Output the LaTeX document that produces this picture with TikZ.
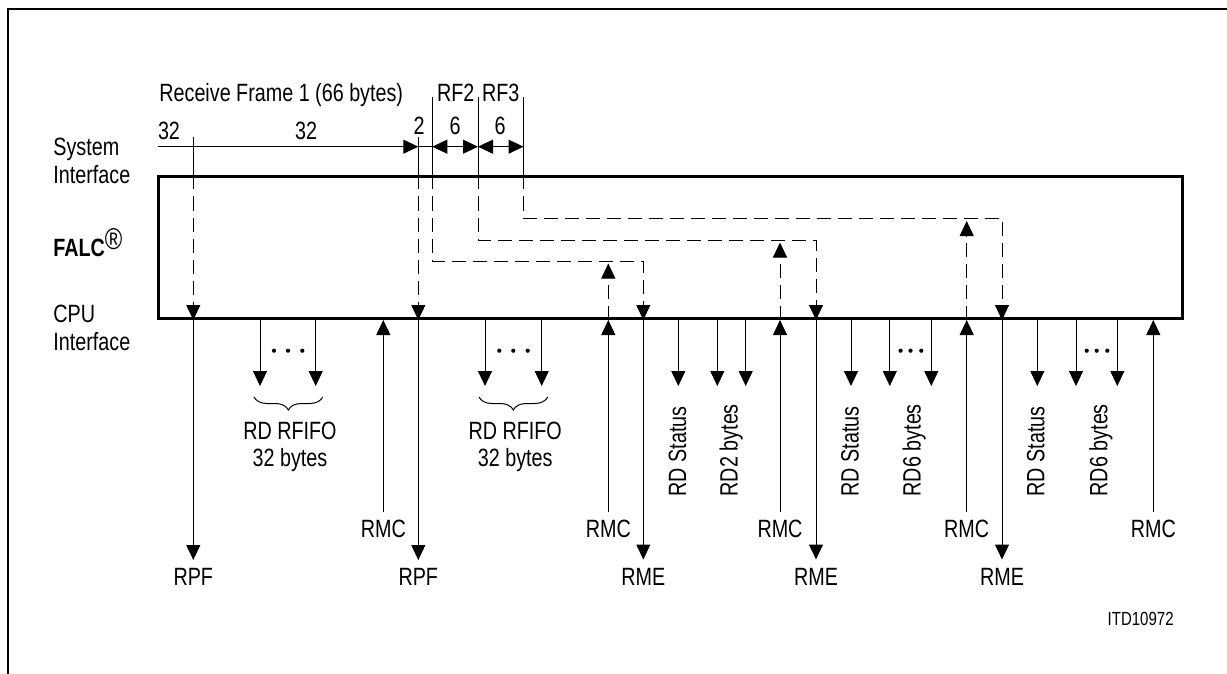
\documentclass[tikz,border=0pt]{standalone}
\usepackage{fontspec}
\setmainfont{Liberation Sans}[FakeStretch=0.79]
\usetikzlibrary{arrows.meta,decorations.pathreplacing}
\begin{document}
\begin{tikzpicture}[x=0.5pt,y=-0.5pt,
  font=\fontsize{12.5}{13.7}\selectfont,
  ln/.style={line width=0.5pt},
  arr/.style={ln,-{Triangle[length=7.5pt,width=7pt]}},
  darr/.style={ln,{Triangle[length=7.5pt,width=7pt]}-{Triangle[length=7.5pt,width=7pt]}},
  dsh/.style={dash pattern=on 7pt off 3.5pt},
  lbl/.style={inner sep=4pt},
  txt/.style={inner sep=0pt},
  vtxt/.style={inner sep=0pt, rotate=90, anchor=base west},
  brc/.style={line width=0.5pt, decorate, decoration={brace, mirror, amplitude=6.5pt}},
  dot/.style={fill=black},
]
\useasboundingbox (0,0) rectangle (1227,674);
% outer frame (only top and left edges visible)
\draw[line width=1pt] (8,690) -- (8,9) -- (1240,9);

% FALC box
\node[draw, line width=1.5pt, minimum width=512.25pt, minimum height=70.75pt, inner sep=0pt] (falc) at (670.25,247.75) {};

% left labels
\node[txt, anchor=north west, align=left] (sysif) at (53,138) {System\\Interface};
\node[txt, anchor=base west] (falcl) at (53,256.7) {\textbf{FALC}\raisebox{3.5pt}{\fontsize{15}{15}\selectfont ®}};
\node[txt, anchor=north west, align=left] (cpuif) at (53,305) {CPU\\Interface};

% top texts
\node[txt, anchor=base west] (rf1) at (159,101.7) {Receive Frame 1 (66 bytes)};
\node[txt, anchor=base west] (rf2) at (436.7,101.7) {RF2};
\node[txt, anchor=base west] (rf3) at (481.7,101.7) {RF3};
\node[txt, anchor=base] (n32a) at (169,140) {32};
\node[txt, anchor=base] (n32b) at (306,140) {32};
\node[txt, anchor=base] (n2) at (419,134.5) {2};
\node[txt, anchor=base] (n6a) at (455,134) {6};
\node[txt, anchor=base] (n6b) at (500,134) {6};

% dimension line
\coordinate (s0) at (158.3,146.7);
\coordinate (s1) at (418.3,146.7);
\coordinate (s2) at (432.3,146.7);
\coordinate (s3) at (478,146.7);
\coordinate (s4) at (523.5,146.7);
\draw[arr] (s0) -- (s1);
\draw[ln] (s1) -- (s2);
\draw[darr] (s2) -- (s3);
\draw[darr] (s3) -- (s4);

% tick tops
\coordinate (v1) at (193.3,136.7);
\coordinate (v2) at (418.3,136.7);
\coordinate (v3) at (432.3,96.7);
\coordinate (v4) at (478,97.5);
\coordinate (v5) at (523.5,97.5);
% horizontal levels inside box
\coordinate (h1) at (0,261);
\coordinate (h2) at (0,240);
\coordinate (h3) at (0,218.5);
\coordinate (u1) at (0,263.5);
\coordinate (u2) at (0,242.5);
\coordinate (u3) at (0,221);

% bottom labels
\node[lbl, anchor=north] (rpfA) at (193.3,560) {RPF};
\node[lbl, anchor=north] (rpfB) at (418.3,560) {RPF};
\node[lbl, anchor=north] (rmeA) at (643.3,559.5) {RME};
\node[lbl, anchor=north] (rmeB) at (816,559.5) {RME};
\node[lbl, anchor=north] (rmeC) at (1002,559.5) {RME};
\node[lbl, anchor=north] (rmcA) at (383.3,512) {RMC};
\node[lbl, anchor=north] (rmcB) at (608.3,512) {RMC};
\node[lbl, anchor=north] (rmcC) at (780,512) {RMC};
\node[lbl, anchor=north] (rmcD) at (966.7,512) {RMC};
\node[lbl, anchor=north] (rmcE) at (1153.3,512) {RMC};

% frame 1 columns
\draw[ln] (v1) -- (v1 |- falc.north);
\draw[arr,dsh] (v1 |- falc.north) -- (v1 |- falc.south);
\draw[arr] (rpfA |- falc.south) -- (rpfA.north);
\draw[ln] (v2) -- (v2 |- falc.north);
\draw[arr,dsh] (v2 |- falc.north) -- (v2 |- falc.south);
\draw[arr] (rpfB |- falc.south) -- (rpfB.north);

% RF1 end / RF2 / RF3 paths
\draw[ln] (v3) -- (v3 |- falc.north);
\draw[arr,dsh] (v3 |- falc.north) |- (rmeA |- h1) -- (rmeA |- falc.south);
\draw[ln] (v4) -- (v4 |- falc.north);
\draw[arr,dsh] (v4 |- falc.north) |- (rmeB |- h2) -- (rmeB |- falc.south);
\draw[ln] (v5) -- (v5 |- falc.north);
\draw[arr,dsh] (v5 |- falc.north) |- (rmeC |- h3) -- (rmeC |- falc.south);

% RME outputs
\draw[arr] (rmeA |- falc.south) -- (rmeA.north);
\draw[arr] (rmeB |- falc.south) -- (rmeB.north);
\draw[arr] (rmeC |- falc.south) -- (rmeC.north);

% RMC inputs
\draw[arr] (rmcA.north) -- (rmcA |- falc.south);
\draw[arr] (rmcB.north) -- (rmcB |- falc.south);
\draw[arr] (rmcC.north) -- (rmcC |- falc.south);
\draw[arr] (rmcD.north) -- (rmcD |- falc.south);
\draw[arr] (rmcE.north) -- (rmcE |- falc.south);
\draw[arr,dsh] (rmcB |- falc.south) -- (rmcB |- u1);
\draw[arr,dsh] (rmcC |- falc.south) -- (rmcC |- u2);
\draw[arr,dsh] (rmcD |- falc.south) -- (rmcD |- u3);

% small read arrows
\foreach \n/\xx in {d1/260, d2/315.7, d3/485, d4/541.7, d5/678.3, d6/717.3, d7/745.7,
                    d8/851, d9/889.8, d10/931.3, d11/1037.3, d12/1076, d13/1117.3} {
  \coordinate (\n) at (\xx,386);
  \draw[arr] (\n |- falc.south) -- (\n);
}

% dots
\foreach \xx in {274,288,302.3, 499.3,513.3,527.7, 900.6,910.5,921.3, 1086.7,1096.7,1107.3}
  \fill[dot] (\xx,350.7) circle[radius=1.05pt];

% braces and RFIFO labels
\draw[brc] (254,397) -- (322.7,397);
\draw[brc] (479,397) -- (547.7,397);
\node[txt, anchor=north, align=center] (rfifoA) at (290,421.7) {RD RFIFO\\32 bytes};
\node[txt, anchor=north, align=center] (rfifoB) at (515.2,421.7) {RD RFIFO\\32 bytes};

% rotated labels
\node[vtxt] (st1) at (686,496.7) {RD Status};
\node[vtxt] (by1) at (737.5,496.7) {RD2 bytes};
\node[vtxt] (st2) at (858.5,496.7) {RD Status};
\node[vtxt] (by2) at (920.5,496.7) {RD6 bytes};
\node[vtxt] (st3) at (1044.3,496.7) {RD Status};
\node[vtxt] (by3) at (1107.3,496.7) {RD6 bytes};

% figure id
\node[txt, anchor=base east, font=\fontsize{9.5}{10}\selectfont] (itd) at (1174,625) {ITD10972};
\end{tikzpicture}
\end{document}
